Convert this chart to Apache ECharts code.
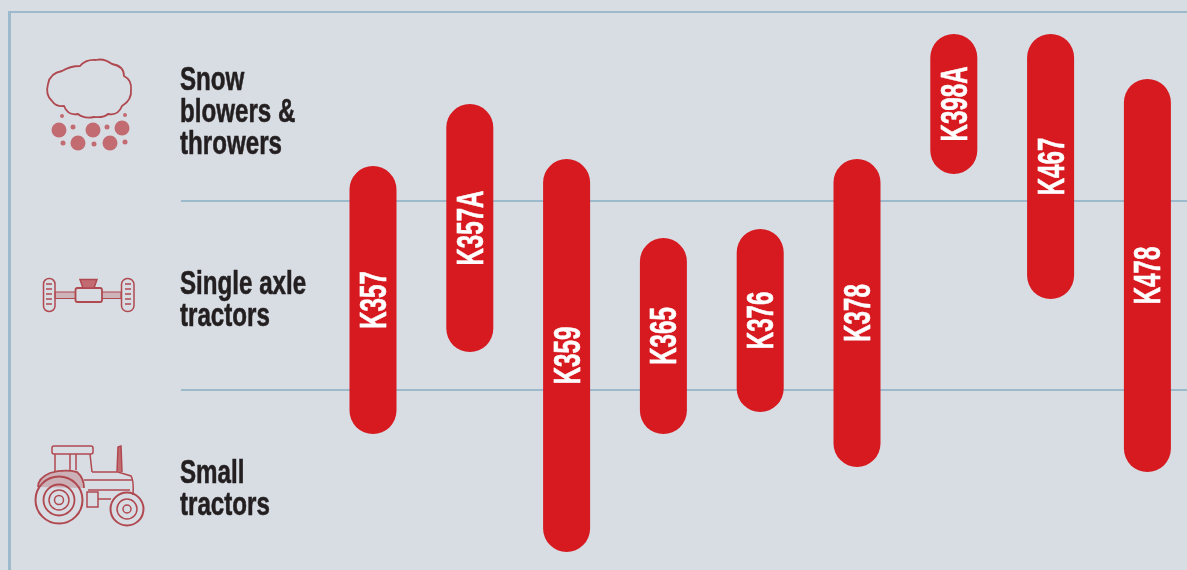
<!DOCTYPE html>
<html><head><meta charset="utf-8">
<style>html,body{margin:0;padding:0;background:#d8dde4;overflow:hidden}#c{width:1187px;height:570px}</style>
<script src="https://cdn.jsdelivr.net/npm/echarts@6/dist/echarts.min.js"></script>
</head><body><div id="c"></div>
<script>
var models = ["K357","K357A","K359","K365","K376","K378","K398A","K467","K478"];
var spanTop = [2.185,2.513,2.222,1.804,1.852,2.222,2.884,2.884,2.646];
var spanBottom = [0.767,1.201,0.143,0.767,0.884,0.593,2.143,1.481,0.566];
var rowLabels = ["Snow\nblowers &\nthrowers","Single axle\ntractors","Small\ntractors"];
var rowLabelTop = [65,269,458];
var rowLines = [3,2,1];

var RED="#d71920", LINE="#9db9cc", INK="#231f20", ICON="#b0484f", ICONF="#c26c72", BG="#d8dde4";
var data = models.map(function(m,i){return [i,spanTop[i],spanBottom[i],m];});

function renderPill(params,api){
  var i=api.value(0), a=api.coord([i,api.value(1)]), b=api.coord([i,api.value(2)]);
  var w=47, name=models[i];
  return {type:'group',children:[
    {type:'rect',shape:{x:a[0]-w/2,y:a[1],width:w,height:b[1]-a[1],r:w/2},style:{fill:RED}},
    {type:'text',x:a[0]+3,y:(a[1]+b[1])/2,rotation:Math.PI/2,scaleX:0.67,
     style:{text:name,x:0,y:0,fill:'#fff',stroke:'#fff',lineWidth:0.6,align:'center',verticalAlign:'middle',
            font:'bold 36px "Liberation Sans"'}}
  ]};
}
function p(d,fill,w){return {type:'path',shape:{pathData:d},style:{fill:fill||'none',stroke:ICON,lineWidth:w||1.5}};}
function c(x,y,r,fill,w){return {type:'circle',shape:{cx:x,cy:y,r:r},style:{fill:fill||'none',stroke:fill?null:ICON,lineWidth:w||1.5}};}
function rr(x,y,ww,h,r,fill,w){return {type:'rect',shape:{x:x,y:y,width:ww,height:h,r:r},style:{fill:fill||'none',stroke:ICON,lineWidth:w||1.5}};}

var icons = [
  p("M48 84Q45 95 52 101Q56 107 64 106Q68 116 78 114Q84 119 94 117Q104 118 108 114Q118 116 122 106Q132 100 131 90Q132 80 124 76Q124 66 112 64Q104 58 96 60Q86 59 80 66Q70 66 62 71Q50 73 48 84Z",null,1.8),
  c(59,130,7.5,ICONF),c(93,130,7.5,ICONF),c(122,128,7.5,ICONF),c(78,143,7.5,ICONF),c(110,143,7.5,ICONF),
  c(73,127,2.5,ICONF),c(107,127,2.5,ICONF),c(63,143,2.5,ICONF),c(94,144,2.5,ICONF),c(125,142,2.5,ICONF),c(62,116,2,ICONF),c(125,115,2,ICONF),
  rr(43.5,278.5,11.5,33,5.5),rr(121.5,278.5,12.5,33,6),
  p("M46 284H52M46 289H52M46 294H52M46 299H52M46 304H52M125 284H131M125 289H131M125 294H131M125 299H131M125 304H131",null,1.4),
  rr(55,292,66,6.5,0,'rgba(180,83,90,0.3)',1),rr(75.5,288,26.5,14,2,BG,1.8),
  p("M80 279.5H97L94 288H83Z",ICONF),
  c(59,500,23.5,null,2),c(59,500,15.5,null,1.8),c(59,500,10),c(59,500,4.5),
  c(127,509,16.5,null,2),c(127,509,10),c(127,509,4),
  rr(52,446,41,8,2),
  p("M55 454V472M70 454V470M90 454L92 472M76 454V470"),
  p("M38 487Q38 478 50 473Q64 469 77 472Q84 478 84 488",'rgba(176,72,79,0.3)',1.8),
  p("M92 472H118L131 476Q134 480 133 495M84 480H133M88 490H130"),
  p("M117 472L118 447L121 446L122 472",ICONF),
  rr(87,492,11,15,0),
  p("M98 499H111")
];
var labels = rowLabels.map(function(t,i){return {type:'text',x:180,y:rowLabelTop[i],scaleX:0.71,
  style:{text:t,fill:INK,stroke:INK,lineWidth:0.6,font:'bold 34px "Liberation Sans"',lineHeight:32,align:'left',verticalAlign:'top'}};});

var chart = echarts.init(document.getElementById('c'),null,{renderer:'canvas'});
chart.setOption({
  animation:false,
  backgroundColor:BG,
  grid:{left:324.6,top:12,width:871.2,height:567,containLabel:false,outerBoundsMode:'none'},
  xAxis:{type:'category',data:models,show:false},
  yAxis:{type:'value',min:0,max:3,show:false},
  graphic:{elements:[
    {type:'line',shape:{x1:9.5,y1:12,x2:9.5,y2:570},style:{stroke:LINE,lineWidth:3},silent:true}
  ].concat(labels)},
  series:[{
    type:'custom',z:3,data:data,renderItem:renderPill,encode:{x:0,y:[1,2]},silent:true,clip:false,
    markLine:{silent:true,symbol:'none',z:1,label:{show:false},
      data:rowLines.map(function(v,i){return [{x:i===0?8:181,yAxis:v},{x:1187,yAxis:v}];}),
      lineStyle:{color:LINE,width:2,type:'solid',opacity:1}}
  },{
    type:'custom',z:2,data:[[0,0]],silent:true,clip:false,encode:{x:0,y:1},
    renderItem:function(){return {type:'group',children:icons};}
  }]
});
</script></body></html>
